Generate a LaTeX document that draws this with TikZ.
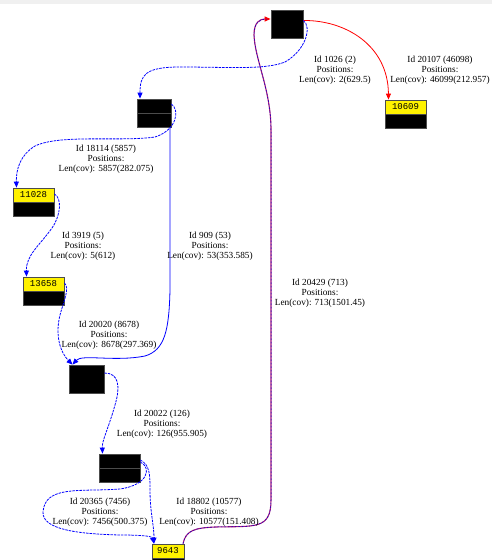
\documentclass[tikz,border=0pt]{standalone}
\usepackage{fontspec}
\setmainfont{Liberation Serif}
\setmonofont{Liberation Mono}
\usepackage{xcolor}
\usepackage{tikz}
\usetikzlibrary{arrows.meta, shapes.multipart}

\begin{document}
\begin{tikzpicture}[x=1pt, y=-1pt,
    blackbox/.style={draw=gray!60!black, fill=black, line width=0.8pt, inner sep=0pt,
        minimum width=#1, minimum height=28pt},
    splitbox/.style={blackbox=#1, path picture={
        \draw[gray!60!black, line width=0.6pt] (path picture bounding box.west) -- (path picture bounding box.east);}},
    seqbox/.style={blackbox=41pt, path picture={
        \fill[yellow] (path picture bounding box.north west) rectangle (path picture bounding box.east);
        \draw[gray!60!black, line width=0.6pt] (path picture bounding box.west) -- (path picture bounding box.east);},
        label={[anchor=center, yshift=-7pt, font=\ttfamily\fontsize{9}{9}\selectfont]north:#1}},
    elabel/.style={align=center, inner sep=0pt, font=\fontsize{9.3}{9.8}\selectfont},
    tip/.style={-{Triangle[length=6pt, width=5pt]}},
    edge/.style={blue, line width=0.8pt, dash pattern=on 2.5pt off 1pt, tip}]

    \definecolor{eblue}{HTML}{0000FF}
    \definecolor{ered}{HTML}{FF0000}
    \definecolor{epurple}{HTML}{A0167F}

    \clip (0,0) rectangle (492,560);
    \fill[white] (0,0) rectangle (492,560);
    \fill[gray!12] (0,0) rectangle (492,4);

    % Nodes
    \node[blackbox=32pt] (nA) at (287,24.5) {};
    \node[seqbox={10609}] (nB) at (405.5,114) {};
    \node[splitbox=34pt] (nC) at (154,113) {};
    \node[seqbox={11028}] (nD) at (33.5,202) {};
    \node[seqbox={13658}] (nE) at (43.5,291) {};
    \node[blackbox=35pt] (nF) at (86.5,379) {};
    \node[splitbox=41pt] (nG) at (119.5,468) {};
    \node[seqbox={9643}, minimum width=32pt] (nH) at (168,558) {};

    % Edges
    \draw[ered, line width=0.8pt, tip] ([yshift=4pt]nA.east) .. controls (345,20) and (388,45) .. ([xshift=-17pt]nB.north);
    \draw[edge] ([yshift=4pt]nA.east) .. controls (312,27) and (306,50) .. (285,62)
        .. controls (265,70) and (230,67) .. (180,67) .. controls (145,67) and (140,75) .. ([xshift=-14pt]nC.north);
    \draw[edge] ([yshift=9pt]nC.east) .. controls (180,110) and (177,130) .. (155,137)
        .. controls (120,142) and (60,134) .. (35,146) .. controls (20,155) and (16,170) .. ([xshift=-17pt]nD.north);
    \draw[eblue, line width=0.8pt, tip] ([xshift=16pt]nC.south) -- (170,290) .. controls (169,330) and (165,350) .. (145,356)
        .. controls (115,362) and (82,354) .. ([xshift=-14pt]nF.north);
    \draw[edge] ([yshift=8pt]nD.east) .. controls (62,198) and (61,215) .. (52,228)
        .. controls (40,245) and (26,255) .. ([xshift=-17pt]nE.north);
    \draw[edge] ([yshift=8pt]nE.east) .. controls (70,288) and (64,300) .. (60,315)
        .. controls (55,335) and (60,352) .. ([xshift=-14pt]nF.north);
    \draw[edge] ([yshift=6pt]nF.east) .. controls (118,373) and (121,385) .. (115,405)
        .. controls (108,430) and (102,440) .. ([xshift=-17pt]nG.north);
    \draw[edge] ([yshift=8pt]nG.east) .. controls (150,465) and (150,475) .. (150,490)
        .. controls (150,512) and (154,525) .. ([xshift=-14pt]nH.north);
    \draw[edge] ([yshift=6pt]nG.east) .. controls (152,468) and (148,485) .. (120,489)
        .. controls (80,492) and (45,485) .. (43,512) .. controls (42,530) and (80,534) .. (120,535)
        .. controls (140,535) and (152,536) .. ([xshift=-14pt]nH.north);
    % back edge, red and blue on the same path
    \draw[epurple, line width=1.1pt, -{Triangle[length=6pt, width=5pt, color=ered]}] ([xshift=15pt]nH.north) .. controls (186,530) and (195,528) .. (215,527)
        .. controls (255,526) and (271,530) .. (271,500) -- (271,130)
        .. controls (271,90) and (255,60) .. (254,35) .. controls (254,22) and (260,19) .. ([yshift=5.5pt]nA.west);
    \draw[eblue!80!black, line width=0.5pt, dash pattern=on 1.5pt off 2pt] ([xshift=15pt]nH.north) .. controls (186,530) and (195,528) .. (215,527)
        .. controls (255,526) and (271,530) .. (271,500) -- (271,130)
        .. controls (271,90) and (255,60) .. (254,35) .. controls (254,22) and (260,19) .. ([xshift=-3pt,yshift=5.5pt]nA.west);

    % Edge labels
    \node[elabel] (lAB) at (440,70) {Id 20107 (46098)\\Positions:\\Len(cov): 46099(212.957)};
    \node[elabel] (lAC) at (335,70) {Id 1026 (2)\\Positions:\\Len(cov): 2(629.5)};
    \node[elabel] (lCD) at (106,159) {Id 18114 (5857)\\Positions:\\Len(cov): 5857(282.075)};
    \node[elabel] (lCF) at (210,246) {Id 909 (53)\\Positions:\\Len(cov): 53(353.585)};
    \node[elabel] (lDE) at (83,246) {Id 3919 (5)\\Positions:\\Len(cov): 5(612)};
    \node[elabel] (lHA) at (320,293) {Id 20429 (713)\\Positions:\\Len(cov): 713(1501.45)};
    \node[elabel] (lEF) at (109,335) {Id 20020 (8678)\\Positions:\\Len(cov): 8678(297.369)};
    \node[elabel] (lFG) at (162,424) {Id 20022 (126)\\Positions:\\Len(cov): 126(955.905)};
    \node[elabel] (lGH) at (100,512) {Id 20365 (7456)\\Positions:\\Len(cov): 7456(500.375)};
    \node[elabel] (lGHb) at (209,512) {Id 18802 (10577)\\Positions:\\Len(cov): 10577(151.408)};
\end{tikzpicture}
\end{document}
